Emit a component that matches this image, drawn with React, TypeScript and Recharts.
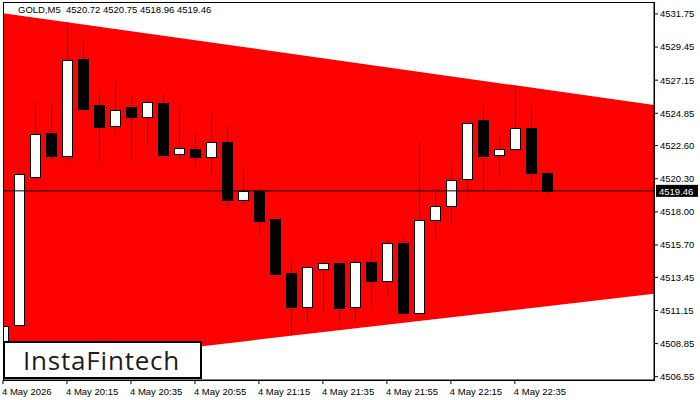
import React from "react";
import {
  ComposedChart,
  Bar,
  Area,
  XAxis,
  YAxis,
  ReferenceLine,
} from "recharts";

// GOLD M5, bar 0 = 19:55
const opens = [
  4508.6, 4510.14, 4520.42, 4523.46, 4521.86, 4528.6, 4525.41, 4523.95, 4525.29,
  4524.57, 4525.54, 4522.0, 4522.35, 4521.81, 4522.85, 4518.8, 4519.47, 4517.48,
  4513.73, 4511.41, 4514.05, 4514.45, 4511.41, 4514.52, 4513.22, 4515.84, 4510.99,
  4517.46, 4518.39, 4520.26, 4524.38, 4521.97, 4522.39, 4523.83, 4520.72,
];
const highs = [
  4511.32, 4520.91, 4525.63, 4525.7, 4531.17, 4530.24, 4526.47, 4527.09, 4525.98,
  4525.79, 4526.17, 4525.22, 4523.41, 4524.85, 4523.97, 4521.19, 4519.71, 4517.5,
  4514.72, 4514.24, 4514.52, 4514.45, 4514.79, 4515.42, 4515.98, 4516.48, 4522.83,
  4519.59, 4521.4, 4524.18, 4525.57, 4523.46, 4526.75, 4525.57, 4520.75,
];
const lows = [
  4508.2, 4510.05, 4519.92, 4521.35, 4521.28, 4525.03, 4521.24, 4523.29, 4521.35,
  4522.6, 4521.9, 4521.56, 4521.0, 4520.61, 4518.18, 4518.46, 4516.34, 4513.65,
  4509.44, 4510.21, 4510.99, 4510.14, 4510.37, 4511.2, 4512.1, 4510.9, 4510.95,
  4516.13, 4517.11, 4519.12, 4519.52, 4520.42, 4522.35, 4520.01, 4518.96,
];
const closes = [
  4510.09, 4520.63, 4523.39, 4521.86, 4528.57, 4525.17, 4523.92, 4525.06, 4524.61,
  4525.61, 4521.93, 4522.42, 4521.79, 4522.83, 4518.82, 4519.48, 4517.39, 4513.7,
  4511.41, 4514.15, 4514.43, 4511.34, 4514.52, 4513.22, 4515.84, 4510.99, 4517.41,
  4518.39, 4520.19, 4524.15, 4521.9, 4522.37, 4523.83, 4520.7, 4519.46,
];

const timeTicks = [0, 4, 8, 12, 16, 20, 24, 28, 32];
const timeLabels = [
  "4 May 2026",
  "4 May 20:15",
  "4 May 20:35",
  "4 May 20:55",
  "4 May 21:15",
  "4 May 21:35",
  "4 May 21:55",
  "4 May 22:15",
  "4 May 22:35",
];
const priceTicks = [
  4506.55, 4508.85, 4511.15, 4513.45, 4515.7, 4518.0, 4520.3, 4522.6, 4524.85,
  4527.15, 4529.45, 4531.75,
];

// triangle pattern edges
const triangleIdx = [0, 40.7];
const triangleTop = [4531.8, 4525.43];
const triangleBottom = [4507.07, 4512.31];

const lastPrice = 4519.46;
const title = "GOLD,M5  4520.72 4520.75 4518.96 4519.46";

const candles = opens.map((o, i) => ({
  i,
  open: o,
  high: highs[i],
  low: lows[i],
  close: closes[i],
  range: [lows[i], highs[i]],
}));

const triangle = triangleIdx.map((i, k) => ({
  i,
  band: [triangleBottom[k], triangleTop[k]],
}));

const FONT = "'Liberation Sans', Arial, sans-serif";

function Candle(props: any) {
  const { x, y, width, height, payload } = props;
  if (x == null || !payload) return null;
  const top = Math.min(y, y + height);
  const h = Math.abs(height);
  const k = h / (payload.high - payload.low || 1);
  const cx = Math.round(x + width / 2) + 0.5;
  const bTop =
    Math.round(top + (payload.high - Math.max(payload.open, payload.close)) * k) + 0.5;
  const bBot =
    Math.round(top + (payload.high - Math.min(payload.open, payload.close)) * k) + 0.5;
  const up = payload.close >= payload.open;
  return (
    <g>
      <line x1={cx} x2={cx} y1={top} y2={top + h} stroke="#000" />
      <rect
        x={cx - 5}
        y={bTop}
        width={10}
        height={Math.max(bBot - bTop, 1)}
        fill={up ? "#fff" : "#000"}
        stroke="#000"
      />
    </g>
  );
}

function TimeTick(props: any) {
  const { x, y, payload } = props;
  const idx = timeTicks.indexOf(payload.value);
  return (
    <text x={x - 1} y={y + 9} fontSize={9.5} fontFamily={FONT} fill="#000" textAnchor="start">
      {idx >= 0 ? timeLabels[idx] : ""}
    </text>
  );
}

function PriceTag(props: any) {
  const vb = props.viewBox || {};
  const x = (vb.x || 0) + (vb.width || 0);
  const y = vb.y || 0;
  return (
    <g>
      <rect x={x + 2} y={y - 6} width={42} height={12} fill="#000" />
      <text x={x + 5} y={y + 4} fontSize={9.5} fontFamily={FONT} fill="#fff">
        {lastPrice.toFixed(2)}
      </text>
    </g>
  );
}

export default function App() {
  return (
    <div
      style={{
        position: "fixed",
        left: 0,
        top: 0,
        width: 700,
        height: 400,
        background: "#fff",
        fontFamily: FONT,
      }}
    >
      <ComposedChart
        width={700}
        height={400}
        data={candles}
        margin={{ top: 3, right: 0, bottom: 0, left: 3 }}
      >
        <XAxis
          dataKey="i"
          type="number"
          domain={[0, 40.7]}
          allowDataOverflow
          ticks={timeTicks}
          tick={<TimeTick />}
          tickSize={4}
          height={20}
          stroke="#000"
          interval={0}
        />
        <YAxis
          orientation="right"
          type="number"
          domain={[4506.32, 4532.51]}
          allowDataOverflow
          ticks={priceTicks}
          interval={0}
          tickFormatter={(v: number) => v.toFixed(2)}
          tick={{ fontSize: 9.5, fontFamily: FONT, fill: "#000" }}
          tickSize={4}
          tickMargin={2}
          width={46}
          stroke="#000"
        />
        <Area
          data={triangle}
          dataKey="band"
          type="linear"
          fill="#ff0000"
          fillOpacity={1}
          stroke="none"
          isAnimationActive={false}
        />
        <Bar
          dataKey="range"
          barSize={10}
          shape={<Candle />}
          isAnimationActive={false}
        />
        <ReferenceLine
          y={lastPrice}
          stroke="#000"
          strokeWidth={1}
          label={<PriceTag />}
        />
      </ComposedChart>

      {/* plot frame */}
      <div
        style={{
          position: "absolute",
          left: 3,
          top: 2,
          width: 652,
          height: 379,
          border: "1px solid #000",
          boxSizing: "border-box",
          pointerEvents: "none",
        }}
      />

      <div
        style={{
          position: "absolute",
          left: 18,
          top: 4,
          fontSize: 9.5,
          color: "#000",
          whiteSpace: "pre",
        }}
      >
        {title}
      </div>

      <div
        style={{
          position: "absolute",
          left: 3,
          top: 341,
          width: 199,
          height: 38,
          border: "2px solid #000",
          boxSizing: "border-box",
          background: "#fff",
          display: "flex",
          alignItems: "center",
          paddingLeft: 18,
          fontFamily: "'Open Sans', sans-serif",
          fontSize: 26,
          letterSpacing: 0.8,
          color: "#1e1e1e",
        }}
      >
        InstaFintech
      </div>
    </div>
  );
}
